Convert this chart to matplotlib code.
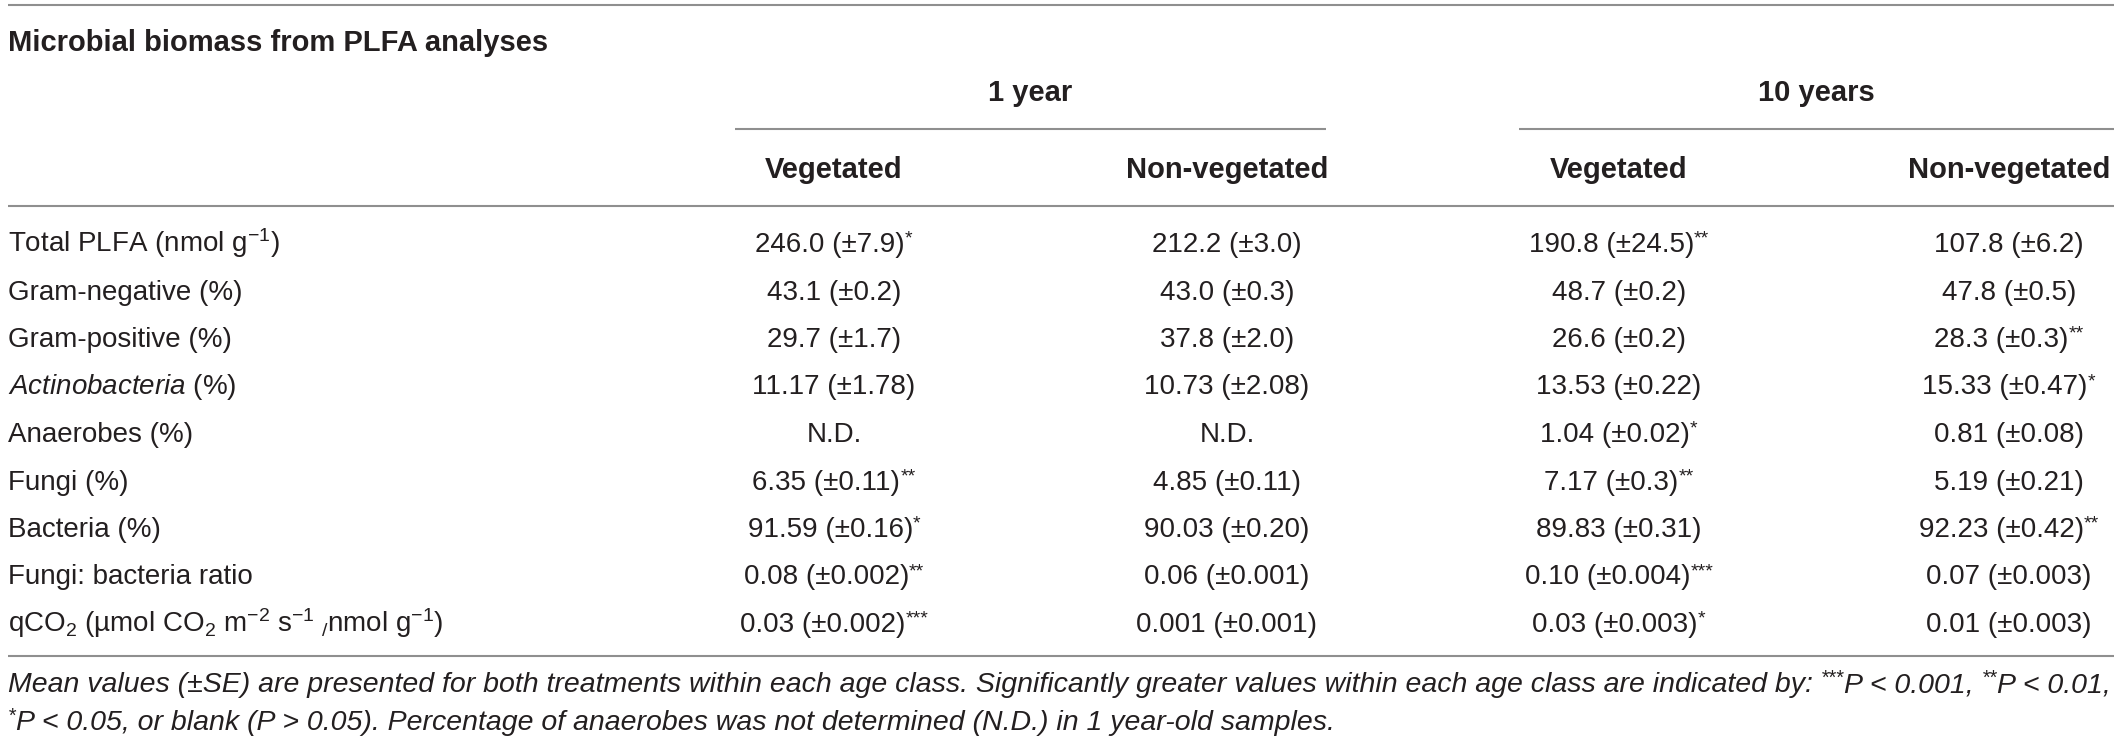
import matplotlib
matplotlib.use("Agg")
import matplotlib.pyplot as plt

plt.rcParams['font.family'] = ['Liberation Sans', 'DejaVu Sans']
plt.rcParams['mathtext.fontset'] = 'custom'
plt.rcParams['mathtext.rm'] = 'Liberation Sans'
plt.rcParams['mathtext.it'] = 'Liberation Sans:italic'
plt.rcParams['mathtext.bf'] = 'Liberation Sans:bold'
plt.rcParams['mathtext.sf'] = 'Liberation Sans'

# table content
title = "Microbial biomass from PLFA analyses"
age_classes = ["1 year", "10 years"]
treatments = ["Vegetated", "Non-vegetated", "Vegetated", "Non-vegetated"]

row_labels = [
    r"Total PLFA (nmol g$^{-1}$)",
    "Gram-negative (%)",
    "Gram-positive (%)",
    r"$\mathit{Actinobacteria}$ (%)",
    "Anaerobes (%)",
    "Fungi (%)",
    "Bacteria (%)",
    "Fungi: bacteria ratio",
    r"qCO$_2$ (µmol CO$_2$ m$^{-2}$ s$^{-1}$$\;_{/}$nmol g$^{-1}$)",
]

veg_1yr = ["246.0 (±7.9)", "43.1 (±0.2)", "29.7 (±1.7)", "11.17 (±1.78)", "N.D.",
           "6.35 (±0.11)", "91.59 (±0.16)", "0.08 (±0.002)", "0.03 (±0.002)"]
veg_1yr_sig = ["*", "", "", "", "", "**", "*", "**", "***"]

nonveg_1yr = ["212.2 (±3.0)", "43.0 (±0.3)", "37.8 (±2.0)", "10.73 (±2.08)", "N.D.",
              "4.85 (±0.11)", "90.03 (±0.20)", "0.06 (±0.001)", "0.001 (±0.001)"]
nonveg_1yr_sig = ["", "", "", "", "", "", "", "", ""]

veg_10yr = ["190.8 (±24.5)", "48.7 (±0.2)", "26.6 (±0.2)", "13.53 (±0.22)", "1.04 (±0.02)",
            "7.17 (±0.3)", "89.83 (±0.31)", "0.10 (±0.004)", "0.03 (±0.003)"]
veg_10yr_sig = ["**", "", "", "", "*", "**", "", "***", "*"]

nonveg_10yr = ["107.8 (±6.2)", "47.8 (±0.5)", "28.3 (±0.3)", "15.33 (±0.47)", "0.81 (±0.08)",
               "5.19 (±0.21)", "92.23 (±0.42)", "0.07 (±0.003)", "0.01 (±0.003)"]
nonveg_10yr_sig = ["", "", "**", "*", "", "", "**", "", ""]

# footnote as (text, superscript?) runs
footnote = [
    [("Mean values (±SE) are presented for both treatments within each age class. "
      "Significantly greater values within each age class are indicated by: ", False),
     ("***", True), ("P < 0.001, ", False), ("**", True), ("P < 0.01,", False)],
    [("*", True), ("P < 0.05, or blank (P > 0.05). Percentage of anaerobes was not "
                   "determined (N.D.) in 1 year-old samples.", False)],
]

columns = [(veg_1yr, veg_1yr_sig), (nonveg_1yr, nonveg_1yr_sig),
           (veg_10yr, veg_10yr_sig), (nonveg_10yr, nonveg_10yr_sig)]

# layout (pixels, origin top-left)
W, H = 2120, 741
col_x = [834, 1227, 1619, 2009]
span_x = [(735, 1326), (1519, 2114)]
row_y0, row_dy = 242, 47.5
text_c = '#231f20'
line_c = '#8f8f8f'
fs = 20
fs_head = 21

fig = plt.figure(figsize=(W / 100, H / 100), dpi=100)
ax = fig.add_axes([0, 0, 1, 1])
ax.set_xlim(0, W)
ax.set_ylim(H, 0)
ax.axis('off')
renderer = fig.canvas.get_renderer()


def text_width(t):
    return t.get_window_extent(renderer).width


def draw_runs(x, y, runs, size, ha='left', **kw):
    """Draw pieces of text side by side; superscript pieces are small and raised."""
    # width of a blank, since edge spaces are not counted in an extent
    probe1 = ax.text(0, 0, "a a", fontsize=size, **kw)
    probe2 = ax.text(0, 0, "aa", fontsize=size, **kw)
    space_w = text_width(probe1) - text_width(probe2)
    probe1.remove()
    probe2.remove()

    items = []
    for txt, sup in runs:
        fsz = size * 0.7 if sup else size
        dy = -size * 0.42 if sup else 0
        t = ax.text(0, y + dy, txt.strip(), fontsize=fsz, color=text_c,
                    ha='left', va='baseline', **kw)
        lead = space_w if txt.startswith(' ') else 0
        trail = space_w if txt.endswith(' ') else 0
        items.append((t, lead, text_width(t), trail))
    total = sum(a + b + c for _, a, b, c in items)
    pos = x - total / 2 if ha == 'center' else x
    for t, lead, w, trail in items:
        pos += lead
        t.set_x(pos)
        pos += w + trail


# rules
for y in (5, 206, 656):
    ax.plot([8, 2114], [y, y], color=line_c, lw=1.5, solid_capstyle='butt')
for x0, x1 in span_x:
    ax.plot([x0, x1], [129, 129], color=line_c, lw=1.5, solid_capstyle='butt')

ax.text(8, 43, title, fontsize=fs_head, fontweight='bold', color=text_c,
        ha='left', va='center')

for (x0, x1), name in zip(span_x, age_classes):
    ax.text((x0 + x1) / 2, 93, name, fontsize=fs_head, fontweight='bold', color=text_c,
            ha='center', va='center')

for x, name in zip(col_x, treatments):
    ax.text(x, 170, name, fontsize=fs_head, fontweight='bold', color=text_c,
            ha='center', va='center')

for i, lab in enumerate(row_labels):
    yb = row_y0 + i * row_dy + 10
    ax.text(8, yb, lab, fontsize=fs, color=text_c, ha='left', va='baseline')
    for x, (vals, sig) in zip(col_x, columns):
        runs = [(vals[i], False)]
        if sig[i]:
            runs.append((sig[i], True))
        draw_runs(x, yb, runs, fs, ha='center')

for j, runs in enumerate(footnote):
    draw_runs(8, 692 + j * 38, runs, 20.5, style='italic')

fig.savefig("out.png", dpi=100)
